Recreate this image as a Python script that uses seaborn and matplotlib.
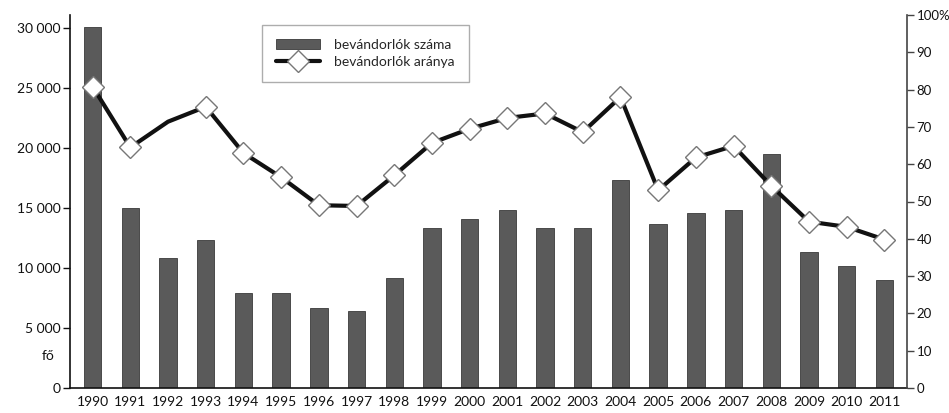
import numpy as np
import pandas as pd
import matplotlib
matplotlib.use("Agg")
import matplotlib.pyplot as plt
import seaborn as sns
from matplotlib.patches import Patch
from matplotlib.lines import Line2D

years = [str(y) for y in range(1990, 2012)]
immigrants = [30100, 15000, 10800, 12350, 7950, 7950, 6650, 6400, 9200, 13350,
              14100, 14850, 13350, 13350, 17350, 13700, 14600, 14800, 19500, 11300,
              10200, 9000]
share = [80.8, 64.5, 71.4, 75.4, 63.0, 56.5, 49.0, 48.8, 57.0, 65.7,
         69.5, 72.4, 73.6, 68.6, 78.0, 53.0, 61.8, 64.9, 54.2, 44.6,
         43.2, 39.8]
left_ticks = [0, 5000, 10000, 15000, 20000, 25000, 30000]
left_labels = ["0", "5 000", "10 000", "15 000", "20 000", "25 000", "30 000"]
right_ticks = list(range(0, 101, 10))
right_labels = ["0", "10", "20", "30", "40", "50", "60", "70", "80", "90", "100%"]
bar_label = "bevándorlók száma"
line_label = "bevándorlók aránya"

sns.set_style("white")
plt.rcParams['font.family'] = ['Lato', 'DejaVu Sans']

df = pd.DataFrame({"year": years, "n": immigrants, "share": share,
                   "pos": np.arange(len(years))})

fig = plt.figure(figsize=(9.49, 4.13), dpi=100)
ax = fig.add_axes([70/949, 25/413, (907-70)/949, (388-15)/413])

sns.barplot(data=df, x="year", y="n", ax=ax, color="#5a5a5a", width=0.46,
            saturation=1, edgecolor="#3a3a3a", linewidth=0.6)
ax.set_xlim(-0.6, 21.6)
ax.set_ylim(0, 31100)
ax.set_yticks(left_ticks)
ax.set_yticklabels(left_labels)
ax.set_xlabel("")
ax.set_ylabel("")
for s in ["top", "right"]:
    ax.spines[s].set_visible(False)
ax.spines["left"].set_color("#111111")
ax.spines["bottom"].set_color("#111111")
ax.spines["left"].set_linewidth(1.2)
ax.spines["bottom"].set_linewidth(1.2)
ax.tick_params(axis="y", which="both", direction="out", length=5, width=1,
               left=True, labelsize=10, pad=2, colors="#111111")
ax.tick_params(axis="x", length=0, labelsize=10, pad=6, colors="#111111")
ax.text(-0.018, 0.085, "fő", transform=ax.transAxes, ha="right", va="center",
        fontsize=10, color="#111111")

ax2 = ax.twinx()
marks = [i for i in range(len(years)) if i != 2]
sns.lineplot(data=df, x="pos", y="share", ax=ax2, color="#111111", linewidth=3,
             marker="D", markersize=11, markerfacecolor="white",
             markeredgecolor="#777777", markeredgewidth=1.0, markevery=marks)
ax2.set_ylim(0, 100)
ax2.set_yticks(right_ticks)
ax2.set_yticklabels(right_labels)
ax2.set_ylabel("")
ax2.set_xlabel("")
ax2.set_xlim(-0.6, 21.6)
for s in ["top", "left", "bottom"]:
    ax2.spines[s].set_visible(False)
ax2.spines["right"].set_color("#444444")
ax2.spines["right"].set_linewidth(1.2)
ax2.tick_params(axis="y", direction="out", length=5, width=1, right=True,
                labelsize=9.5, pad=2, colors="#444444", labelcolor="#111111")

handles = [Patch(facecolor="#5a5a5a", edgecolor="#3a3a3a", linewidth=0.6),
           Line2D([0], [0], color="#111111", linewidth=3, marker="D", markersize=11,
                  markerfacecolor="white", markeredgecolor="#777777")]
leg = ax2.legend(handles, [bar_label, line_label], loc="upper left",
                 bbox_to_anchor=(262/949, 1 - 25/413), bbox_transform=fig.transFigure,
                 frameon=True, fancybox=False, fontsize=10, handlelength=3.2,
                 borderpad=1.0, labelspacing=0.35, borderaxespad=0, handletextpad=1.0)
leg.get_frame().set_edgecolor("#999999")
leg.get_frame().set_linewidth(1.0)

fig.savefig("out.png", dpi=100)
